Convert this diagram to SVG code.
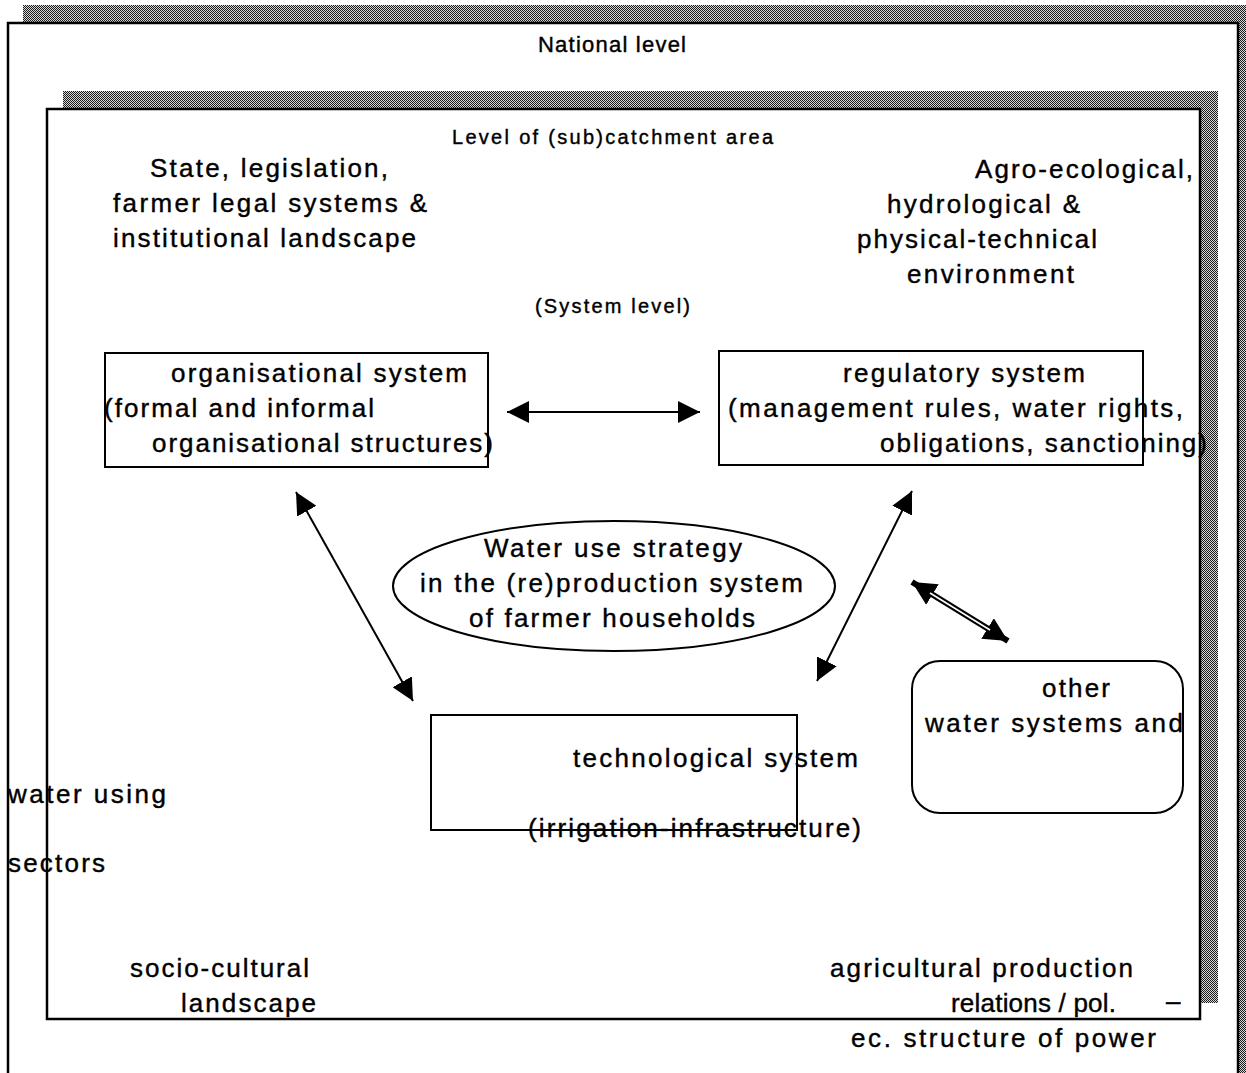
<svg xmlns="http://www.w3.org/2000/svg" width="1246" height="1073" viewBox="0 0 1246 1073">
<defs>
<pattern id="dither" width="2" height="2" patternUnits="userSpaceOnUse">
<rect width="2" height="2" fill="#d8d8d8"/>
<rect x="0" y="0" width="1" height="1" fill="#1a1a1a"/>
<rect x="1" y="1" width="1" height="1" fill="#1a1a1a"/>
</pattern>
<marker id="ah" viewBox="0 0 10 10" refX="10" refY="5" markerWidth="22" markerHeight="22" markerUnits="userSpaceOnUse" orient="auto-start-reverse">
<path d="M0,0 L10,5 L0,10 z" fill="#000"/>
</marker>
<marker id="ah2" viewBox="0 0 10 10" refX="10" refY="5" markerWidth="24" markerHeight="24" markerUnits="userSpaceOnUse" orient="auto-start-reverse">
<path d="M0,0 L10,5 L0,10 z" fill="#000"/>
</marker>
</defs>
<style>
.t{font-family:"Liberation Sans",Arial,Helvetica,sans-serif;fill:#000;stroke:#000;stroke-width:0.4}
.b{font-size:26px}
.s{font-size:20px}
.m{font-size:22px}
.frame{fill:#fff;stroke:#000;stroke-width:2.5}
.box{fill:none;stroke:#000;stroke-width:2}
.ln{stroke:#000;stroke-width:2;fill:none}
</style>
<rect width="1246" height="1073" fill="#fff"/>
<g id="national-frame">
<rect x="23" y="5" width="1230" height="1090" fill="url(#dither)"/>
<rect class="frame" x="8" y="23" width="1230" height="1070"/>
<text class="t m" x="538" y="52" textLength="148" lengthAdjust="spacing">National level</text>
</g>
<g id="catchment-frame">
<rect x="63" y="91" width="1155" height="912" fill="url(#dither)"/>
<rect class="frame" x="47" y="109" width="1153" height="910"/>
<text class="t s" x="452" y="144" textLength="321" lengthAdjust="spacing">Level of (sub)catchment area</text>
<text class="t s" x="535" y="313" textLength="155" lengthAdjust="spacing">(System level)</text>
</g>
<g id="label-state">
<text class="t b" x="150" y="177" textLength="238" lengthAdjust="spacing">State, legislation,</text>
<text class="t b" x="113" y="212" textLength="314" lengthAdjust="spacing">farmer legal systems &amp;</text>
<text class="t b" x="113" y="247" textLength="303" lengthAdjust="spacing">institutional landscape</text>
</g>
<g id="label-agro">
<text class="t b" x="975" y="178" textLength="218" lengthAdjust="spacing">Agro-ecological,</text>
<text class="t b" x="887" y="213" textLength="193" lengthAdjust="spacing">hydrological &amp;</text>
<text class="t b" x="857" y="248" textLength="240" lengthAdjust="spacing">physical-technical</text>
<text class="t b" x="907" y="283" textLength="167" lengthAdjust="spacing">environment</text>
</g>
<g id="connectors">
<line class="ln" x1="507" y1="412" x2="700" y2="412" marker-start="url(#ah)" marker-end="url(#ah)"/>
<line class="ln" x1="296" y1="492" x2="413" y2="701" marker-start="url(#ah)" marker-end="url(#ah)"/>
<line class="ln" x1="912" y1="491" x2="817" y2="681" marker-start="url(#ah)" marker-end="url(#ah)"/>
<line x1="912" y1="582" x2="1008" y2="641" stroke="#000" stroke-width="6" marker-start="url(#ah2)" marker-end="url(#ah2)"/>
<line x1="930" y1="593" x2="990" y2="630" stroke="#fff" stroke-width="1.6"/>
</g>
<g id="node-organisational">
<rect class="box" x="105" y="353" width="383" height="114"/>
<text class="t b" x="171" y="382" textLength="296" lengthAdjust="spacing">organisational system</text>
<text class="t b" x="104" y="417" textLength="270" lengthAdjust="spacing">(formal and informal</text>
<text class="t b" x="152" y="452" textLength="341" lengthAdjust="spacing">organisational structures)</text>
</g>
<g id="node-regulatory">
<rect class="box" x="719" y="351" width="424" height="114"/>
<text class="t b" x="843" y="382" textLength="242" lengthAdjust="spacing">regulatory system</text>
<text class="t b" x="728" y="417" textLength="455" lengthAdjust="spacing">(management rules, water rights,</text>
<text class="t b" x="880" y="452" textLength="327" lengthAdjust="spacing">obligations, sanctioning)</text>
</g>
<g id="node-strategy">
<ellipse cx="614" cy="586" rx="221" ry="65" class="box"/>
<text class="t b" x="484" y="557" textLength="258" lengthAdjust="spacing">Water use strategy</text>
<text class="t b" x="420" y="592" textLength="383" lengthAdjust="spacing">in the (re)production system</text>
<text class="t b" x="469" y="627" textLength="286" lengthAdjust="spacing">of farmer households</text>
</g>
<g id="node-other">
<rect class="box" x="912" y="661" width="271" height="152" rx="28" ry="28"/>
<text class="t b" x="1042" y="697" textLength="68" lengthAdjust="spacing">other</text>
<text class="t b" x="925" y="732" textLength="258" lengthAdjust="spacing">water systems and</text>
</g>
<g id="node-technological">
<rect class="box" x="431" y="715" width="366" height="115"/>
<text class="t b" x="573" y="767" textLength="285" lengthAdjust="spacing">technological system</text>
<text class="t b" x="528" y="837" textLength="333" lengthAdjust="spacing">(irrigation-infrastructure)</text>
</g>
<g id="label-water-using">
<text class="t b" x="8" y="803" textLength="158" lengthAdjust="spacing">water using</text>
<text class="t b" x="8" y="872" textLength="97" lengthAdjust="spacing">sectors</text>
</g>
<g id="label-socio">
<text class="t b" x="130" y="977" textLength="179" lengthAdjust="spacing">socio-cultural</text>
<text class="t b" x="181" y="1012" textLength="135" lengthAdjust="spacing">landscape</text>
</g>
<g id="label-agricultural">
<text class="t b" x="830" y="977" textLength="303" lengthAdjust="spacing">agricultural production</text>
<text class="t b" x="951" y="1012" textLength="165" lengthAdjust="spacing">relations / pol.</text>
<text class="t b" x="1166" y="1010">–</text>
<text class="t b" x="851" y="1047" textLength="305" lengthAdjust="spacing">ec. structure of power</text>
</g>
</svg>
